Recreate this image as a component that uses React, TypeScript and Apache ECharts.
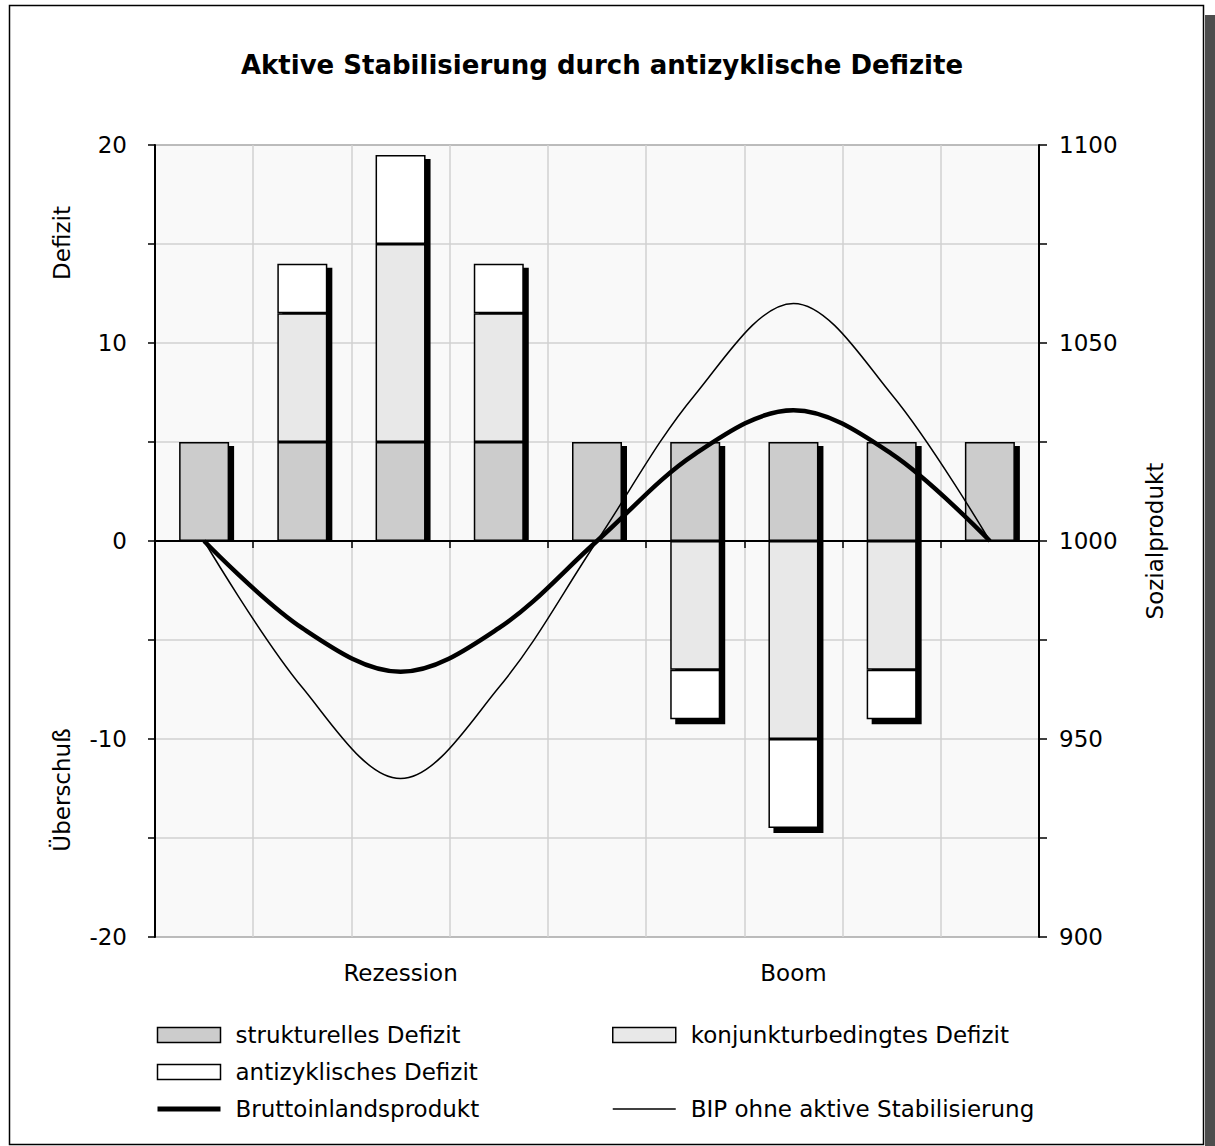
import React, { useEffect, useRef } from "react";
import * as echarts from "echarts";

const categories = ["1", "2", "3", "4", "5", "6", "7", "8", "9"];
const phaseLabels = ["", "", "Rezession", "", "", "", "Boom", "", ""];
const strukturell = [5, 5, 5, 5, 5, 5, 5, 5, 5];
const konjunktur = [0, 6.5, 10, 6.5, 0, -6.5, -10, -6.5, 0];
const antizyklisch = [0, 2.5, 4.5, 2.5, 0, -2.5, -4.5, -2.5, 0];
const bip = [1000, 978, 967, 978, 1000, 1022, 1033, 1022, 1000];
const bipOhne = [1000, 963, 940, 963, 1000, 1037, 1060, 1037, 1000];

const FONT = "DejaVu Sans";
const FS = 23;
const BAR_W = 50;
const SH_X = 5;
const SH_Y = 4;

const nz = (a: number[]) => a.map((v) => (v === 0 ? null : v));

export default function App() {
  const ref = useRef<HTMLDivElement>(null);
  useEffect(() => {
    const chart = echarts.init(ref.current!, null, { renderer: "svg" });
    const shadowData = categories.map((_, i) => {
      const vals = [strukturell[i], konjunktur[i], antizyklisch[i]];
      const hi = vals.filter((v) => v > 0).reduce((a, b) => a + b, 0);
      const lo = vals.filter((v) => v < 0).reduce((a, b) => a + b, 0);
      return [i, lo, hi];
    });
    const barBase = {
      type: "bar",
      stack: "defizit",
      barWidth: BAR_W,
      z: 3,
    };
    const legendText = {
      fontFamily: FONT,
      fontSize: FS,
      color: "#000",
      lineHeight: 26,
      padding: [0, 0, 0, 10],
    };
    const axisText = (name: string, x: number, y: number) => ({
      type: "text",
      x,
      y,
      rotation: Math.PI / 2,
      style: {
        text: name,
        fontFamily: FONT,
        fontSize: FS,
        fill: "#000",
        align: "center",
        verticalAlign: "middle",
        textAlign: "center",
        textVerticalAlign: "middle",
      },
    });
    const option: any = {
      animation: false,
      backgroundColor: "#ffffff",
      textStyle: { fontFamily: FONT },
      title: {
        text: "Aktive Stabilisierung durch antizyklische Defizite",
        left: 597,
        top: 47,
        textAlign: "center",
        textStyle: { fontFamily: FONT, fontSize: 26, fontWeight: "bold", color: "#000" },
      },
      grid: {
        left: 155,
        top: 145,
        width: 884,
        height: 792,
        show: true,
        backgroundColor: "#f9f9f9",
        borderColor: "#555",
        borderWidth: 1.5,
        containLabel: false,
      },
      legend: [
        {
          left: 155,
          top: 1022,
          padding: 0,
          orient: "vertical",
          itemWidth: 63,
          itemHeight: 15,
          itemGap: 11,
          selectedMode: false,
          textStyle: legendText,
          data: [
            { name: "strukturelles Defizit", icon: "rect", itemStyle: { color: "#cccccc", borderColor: "#000", borderWidth: 1.5 } },
            { name: "antizyklisches Defizit", icon: "rect", itemStyle: { color: "#ffffff", borderColor: "#000", borderWidth: 1.5 } },
            { name: "Bruttoinlandsprodukt", itemStyle: { opacity: 0 }, lineStyle: { width: 5, color: "#000" } },
          ],
        },
        {
          left: 612,
          top: 1022,
          padding: 0,
          orient: "vertical",
          itemWidth: 63,
          itemHeight: 15,
          itemGap: 48,
          selectedMode: false,
          textStyle: legendText,
          data: [
            { name: "konjunkturbedingtes Defizit", icon: "rect", itemStyle: { color: "#e8e8e8", borderColor: "#000", borderWidth: 1.5 } },
            { name: "BIP ohne aktive Stabilisierung", itemStyle: { opacity: 0 }, lineStyle: { width: 1.5, color: "#000" } },
          ],
        },
      ],
      xAxis: [
        {
          type: "category",
          data: categories,
          boundaryGap: true,
          axisLine: { onZero: true, lineStyle: { color: "#000", width: 2 } },
          axisTick: { show: true, length: 7, lineStyle: { color: "#000", width: 1.5 } },
          axisLabel: { show: false },
          splitLine: { show: true, lineStyle: { color: "#d0d0d0", width: 1.5 } },
        },
        {
          type: "category",
          data: phaseLabels,
          position: "bottom",
          axisLine: { show: false, onZero: false },
          axisTick: { show: false },
          axisLabel: { show: true, interval: 0, margin: 24, fontFamily: FONT, fontSize: FS, color: "#000" },
          splitLine: { show: false },
        },
      ],
      yAxis: [
        {
          type: "value",
          min: -20,
          max: 20,
          interval: 5,
          position: "left",
          axisLine: { show: true, lineStyle: { color: "#000", width: 2 } },
          axisTick: { show: true, length: 7, lineStyle: { color: "#000", width: 1.5 } },
          axisLabel: {
            margin: 28,
            fontFamily: FONT,
            fontSize: FS,
            color: "#000",
            formatter: (v: number) => (v % 10 === 0 ? String(v) : ""),
          },
          splitLine: { show: true, lineStyle: { color: "#d0d0d0", width: 1.5 } },
        },
        {
          type: "value",
          min: 900,
          max: 1100,
          interval: 25,
          position: "right",
          axisLine: { show: true, lineStyle: { color: "#000", width: 2 } },
          axisTick: { show: true, length: 8, lineStyle: { color: "#000", width: 1.5 } },
          axisLabel: {
            margin: 20,
            fontFamily: FONT,
            fontSize: FS,
            color: "#000",
            formatter: (v: number) => (v % 50 === 0 ? String(v) : ""),
          },
          splitLine: { show: false },
        },
      ],
      graphic: [
        {
          type: "rect",
          z: 100,
          shape: { x: 9.5, y: 5.5, width: 1194, height: 1139 },
          style: { fill: "none", stroke: "#000", lineWidth: 1.5 },
        },
        {
          type: "rect",
          z: 100,
          shape: { x: 1205, y: 15, width: 10, height: 1131 },
          style: { fill: "#4d4d4d" },
        },
        axisText("Defizit", 62, 243),
        axisText("Überschuß", 62, 790),
        axisText("Sozialprodukt", 1155, 541),
      ],
      series: [
        {
          type: "custom",
          name: "shadow",
          z: 1,
          silent: true,
          data: shadowData,
          renderItem: (params: any, api: any) => {
            const idx = api.value(0);
            const lo = api.value(1);
            const hi = api.value(2);
            const top = api.coord([idx, hi]);
            const bot = api.coord([idx, lo]);
            const zero = api.coord([idx, 0]);
            const x = top[0] - BAR_W / 2 + SH_X;
            const y = top[1] + SH_Y;
            const yb = lo < 0 ? bot[1] + SH_Y + 1 : zero[1];
            return {
              type: "rect",
              shape: { x, y, width: BAR_W, height: yb - y },
              style: { fill: "#000" },
            };
          },
        },
        {
          ...barBase,
          name: "strukturelles Defizit",
          data: nz(strukturell),
          itemStyle: { color: "#cccccc", borderColor: "#000", borderWidth: 1.5 },
        },
        {
          ...barBase,
          name: "konjunkturbedingtes Defizit",
          data: nz(konjunktur),
          itemStyle: { color: "#e8e8e8", borderColor: "#000", borderWidth: 1.5 },
        },
        {
          ...barBase,
          name: "antizyklisches Defizit",
          data: nz(antizyklisch),
          itemStyle: { color: "#ffffff", borderColor: "#000", borderWidth: 1.5 },
        },
        {
          type: "line",
          name: "Bruttoinlandsprodukt",
          yAxisIndex: 1,
          data: bip,
          smooth: 0.35,
          symbol: "none",
          showSymbol: false,
          z: 5,
          lineStyle: { color: "#000", width: 4.5 },
          itemStyle: { color: "#000" },
        },
        {
          type: "line",
          name: "BIP ohne aktive Stabilisierung",
          yAxisIndex: 1,
          data: bipOhne,
          smooth: 0.35,
          symbol: "none",
          showSymbol: false,
          z: 5,
          lineStyle: { color: "#000", width: 1.5 },
          itemStyle: { color: "#000" },
        },
      ],
    };
    chart.setOption(option);
    return () => chart.dispose();
  }, []);
  return (
    <div
      ref={ref}
      style={{ position: "absolute", left: 0, top: 0, width: 1215, height: 1146 }}
    />
  );
}
